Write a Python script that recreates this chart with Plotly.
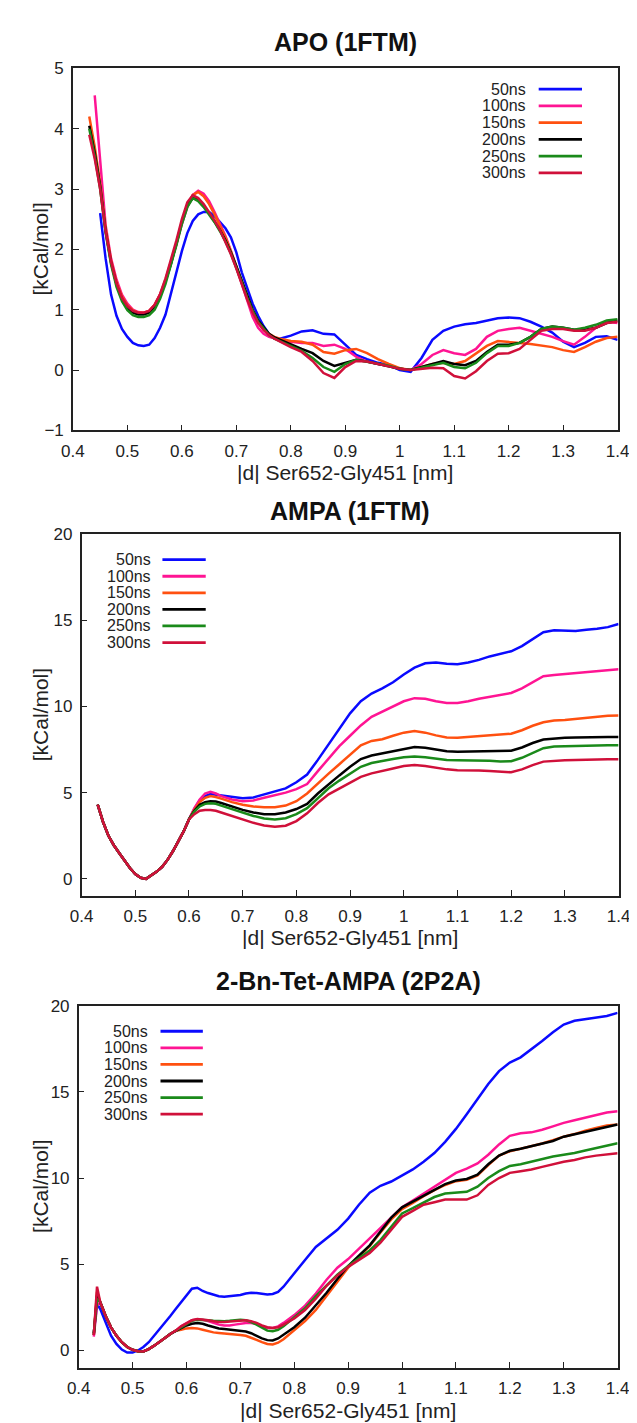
import plotly.graph_objects as go

W, H = 637, 1423
NAMES = ["50ns", "100ns", "150ns", "200ns", "250ns", "300ns"]
COLORS = ["#0a0aff", "#ff1493", "#ff5010", "#000000", "#1a8a1a", "#d0103a"]

# ---------------- Panel 1: APO (1FTM) ----------------
X1 = [0.43, 0.44, 0.45, 0.46, 0.47, 0.48, 0.49, 0.50, 0.51, 0.52, 0.53, 0.54, 0.55, 0.56, 0.57, 0.58,
      0.59, 0.60, 0.61, 0.62, 0.63, 0.64, 0.65, 0.66, 0.67, 0.68, 0.69, 0.70, 0.71, 0.72, 0.73, 0.74,
      0.75, 0.76, 0.77, 0.78,
      0.80, 0.82, 0.84, 0.86, 0.88, 0.90, 0.92, 0.94, 0.96, 0.98, 1.00, 1.02, 1.04, 1.06, 1.08, 1.10,
      1.12, 1.14, 1.16, 1.18, 1.20, 1.22, 1.24, 1.26, 1.28, 1.30, 1.32, 1.34, 1.36, 1.38, 1.40]
APO_50 = [None, None, 2.6, 1.85, 1.25, 0.9, 0.68, 0.55, 0.45, 0.41, 0.40, 0.42, 0.53, 0.7, 0.92, 1.28,
          1.64, 1.97, 2.27, 2.47, 2.58, 2.62, 2.62, 2.55, 2.45, 2.35, 2.2, 1.95, 1.62, 1.35, 1.1, 0.9,
          0.73, 0.6, 0.52, 0.52,
          0.57, 0.64, 0.66, 0.6, 0.59, 0.42, 0.25, 0.18, 0.12, 0.08, 0.0, -0.03, 0.2, 0.5, 0.65, 0.72,
          0.76, 0.78, 0.82, 0.86, 0.87, 0.86, 0.8, 0.72, 0.62, 0.47, 0.38, 0.45, 0.55, 0.56, 0.5]
APO_100 = [None, 4.55, 3.4, 2.4, 1.85, 1.5, 1.25, 1.1, 1.0, 0.96, 0.95, 0.98, 1.08, 1.25, 1.48, 1.76,
           2.08, 2.42, 2.7, 2.9, 2.97, 2.92, 2.8, 2.62, 2.43, 2.22, 1.98, 1.7, 1.4, 1.12, 0.88, 0.7,
           0.6, 0.55, 0.52, 0.5,
           0.47, 0.45, 0.45, 0.4, 0.42, 0.35, 0.22, 0.14, 0.1, 0.07, 0.02, 0.0, 0.1, 0.25, 0.33, 0.28,
           0.25, 0.35, 0.55, 0.65, 0.68, 0.7, 0.65, 0.6, 0.55, 0.48, 0.42, 0.55, 0.7, 0.8, 0.78]
APO_150 = [4.2, 3.7, 3.1, 2.35, 1.82, 1.46, 1.22, 1.07, 0.99, 0.95, 0.95, 0.98, 1.08, 1.25, 1.5, 1.78,
           2.1, 2.45, 2.72, 2.9, 2.95, 2.88, 2.75, 2.58, 2.4, 2.2, 1.97, 1.72, 1.45, 1.2, 0.97, 0.8,
           0.68, 0.6, 0.55, 0.52,
           0.48, 0.47, 0.42, 0.3, 0.27, 0.33, 0.35, 0.28, 0.18, 0.1, 0.03, 0.0, 0.05, 0.1, 0.12, 0.1,
           0.15, 0.28, 0.4, 0.48, 0.47, 0.45, 0.43, 0.4, 0.38, 0.33, 0.3, 0.38, 0.47, 0.53, 0.55]
APO_200 = [4.05, 3.6, 3.05, 2.3, 1.78, 1.42, 1.18, 1.03, 0.95, 0.92, 0.92, 0.95, 1.05, 1.22, 1.47, 1.76,
           2.1, 2.45, 2.72, 2.85, 2.82, 2.72, 2.6, 2.47, 2.32, 2.15, 1.95, 1.72, 1.47, 1.22, 1.0, 0.82,
           0.7, 0.6, 0.54, 0.5,
           0.42, 0.35, 0.28, 0.15, 0.07, 0.12, 0.17, 0.14, 0.1, 0.07, 0.02, 0.0, 0.05, 0.1, 0.15, 0.1,
           0.08, 0.15, 0.3, 0.42, 0.42, 0.45, 0.55, 0.68, 0.72, 0.7, 0.67, 0.67, 0.7, 0.78, 0.82]
APO_250 = [4.0, 3.55, 3.0, 2.28, 1.75, 1.38, 1.14, 0.99, 0.91, 0.88, 0.88, 0.91, 1.0, 1.18, 1.43, 1.73,
           2.07, 2.42, 2.7, 2.85, 2.8, 2.7, 2.58, 2.45, 2.3, 2.13, 1.93, 1.7, 1.45, 1.2, 0.98, 0.8,
           0.68, 0.58, 0.52, 0.48,
           0.4, 0.32, 0.2, 0.05, -0.03, 0.1, 0.17, 0.14, 0.1, 0.07, 0.02, 0.0, 0.04, 0.08, 0.12, 0.05,
           0.03, 0.12, 0.28, 0.4, 0.4, 0.45, 0.55, 0.68, 0.72, 0.7, 0.67, 0.7, 0.75, 0.82, 0.84]
APO_300 = [3.9, 3.5, 3.0, 2.3, 1.8, 1.44, 1.2, 1.06, 0.98, 0.95, 0.95, 0.98, 1.08, 1.26, 1.52, 1.82,
           2.15, 2.5, 2.78, 2.9, 2.85, 2.75, 2.62, 2.48, 2.32, 2.13, 1.92, 1.68, 1.42, 1.17, 0.95, 0.78,
           0.66, 0.58, 0.52, 0.47,
           0.38, 0.3, 0.15, -0.05, -0.13, 0.05, 0.15, 0.14, 0.1, 0.06, 0.02, 0.0, 0.02, 0.04, 0.03, -0.1,
           -0.14, -0.02, 0.15, 0.27, 0.28, 0.35, 0.5, 0.65, 0.68, 0.68, 0.65, 0.65, 0.7, 0.78, 0.8]

# ---------------- Panel 2: AMPA (1FTM) ----------------
X2 = [0.43, 0.44, 0.45, 0.46, 0.47, 0.48, 0.49, 0.50, 0.51, 0.52, 0.53, 0.54, 0.55, 0.56, 0.57, 0.58,
      0.59, 0.60, 0.61, 0.62, 0.63, 0.64, 0.65, 0.66,
      0.68, 0.70, 0.72, 0.74, 0.76, 0.78, 0.80, 0.82, 0.84, 0.86, 0.88, 0.90, 0.92, 0.94, 0.96, 0.98,
      1.00, 1.02, 1.04, 1.06, 1.08, 1.10, 1.12, 1.14, 1.16, 1.18, 1.20, 1.22, 1.24, 1.26, 1.28, 1.30,
      1.32, 1.34, 1.36, 1.38, 1.40]
AMPA_HEAD = [4.3, 3.3, 2.5, 1.95, 1.5, 1.05, 0.63, 0.28, 0.06, 0.0, 0.2, 0.42, 0.7, 1.1, 1.6, 2.2,
             2.75, 3.45]
AMPA_50 = [4.05, 4.55, 4.8, 4.92, 4.88, 4.8,
           4.72, 4.68, 4.72, 4.9, 5.1, 5.25, 5.6, 6.05, 6.9, 7.8, 8.7, 9.6, 10.3, 10.75, 11.05, 11.4,
           11.85, 12.25, 12.5, 12.55, 12.48, 12.45, 12.55, 12.7, 12.9, 13.05, 13.2, 13.5, 13.9, 14.3,
           14.42, 14.42, 14.38, 14.45, 14.5, 14.6, 14.78]
AMPA_100 = [4.1, 4.6, 4.95, 5.05, 4.95, 4.8,
            4.6, 4.5, 4.55, 4.7, 4.85, 5.0, 5.2, 5.5, 6.25, 7.0, 7.7, 8.3, 8.9, 9.4, 9.7, 10.0,
            10.3, 10.48, 10.45, 10.3, 10.2, 10.2, 10.3, 10.45, 10.55, 10.68, 10.78, 11.05, 11.4, 11.75,
            11.82, 11.88, 11.95, 12.0, 12.05, 12.1, 12.15]
AMPA_150 = [4.0, 4.45, 4.7, 4.8, 4.75, 4.65,
            4.45, 4.3, 4.2, 4.15, 4.15, 4.25, 4.5, 4.95, 5.55, 6.1, 6.65, 7.2, 7.75, 8.0, 8.1, 8.3,
            8.48, 8.57, 8.48, 8.32, 8.2, 8.18, 8.22, 8.28, 8.32, 8.36, 8.42, 8.62, 8.88, 9.08,
            9.18, 9.22, 9.28, 9.35, 9.42, 9.46, 9.47]
AMPA_200 = [3.95, 4.3, 4.45, 4.5, 4.48, 4.4,
            4.2, 4.0, 3.85, 3.75, 3.75, 3.85, 4.05, 4.35, 4.95, 5.5, 6.0, 6.5, 6.95, 7.15, 7.28, 7.42,
            7.55, 7.65, 7.6, 7.48, 7.4, 7.37, 7.38, 7.4, 7.4, 7.4, 7.43, 7.62, 7.88, 8.08,
            8.15, 8.18, 8.2, 8.22, 8.22, 8.22, 8.22]
AMPA_250 = [3.9, 4.2, 4.35, 4.38, 4.35, 4.25,
            4.05, 3.85, 3.65, 3.5, 3.45, 3.52, 3.75, 4.1, 4.7, 5.25, 5.7, 6.1, 6.5, 6.72, 6.85, 6.95,
            7.05, 7.1, 7.05, 6.97, 6.9, 6.88, 6.88, 6.87, 6.85, 6.8, 6.82, 7.02, 7.32, 7.58,
            7.68, 7.7, 7.72, 7.74, 7.75, 7.75, 7.75]
AMPA_300 = [3.75, 3.95, 4.0, 4.0, 3.95, 3.85,
            3.65, 3.45, 3.25, 3.1, 3.02, 3.08, 3.35, 3.8, 4.4, 4.9, 5.25, 5.6, 5.92, 6.12, 6.28, 6.4,
            6.55, 6.6, 6.55, 6.45, 6.35, 6.3, 6.3, 6.28, 6.25, 6.2, 6.18, 6.35, 6.6, 6.8,
            6.86, 6.88, 6.9, 6.92, 6.92, 6.93, 6.93]

# ---------------- Panel 3: 2-Bn-Tet-AMPA (2P2A) ----------------
X3 = [0.428, 0.434,
      0.44, 0.45, 0.46, 0.47, 0.48, 0.49, 0.50, 0.51, 0.52, 0.53, 0.54, 0.55, 0.56, 0.57, 0.58,
      0.59, 0.60, 0.61, 0.62, 0.63, 0.64, 0.65, 0.66, 0.67, 0.68, 0.69, 0.70, 0.71, 0.72, 0.73, 0.74,
      0.75, 0.76, 0.77, 0.78, 0.79, 0.80,
      0.82, 0.84, 0.86, 0.88, 0.90, 0.92, 0.94, 0.96, 0.98, 1.00, 1.02, 1.04, 1.06, 1.08, 1.10, 1.12,
      1.14, 1.16, 1.18, 1.20, 1.22, 1.24, 1.26, 1.28, 1.30, 1.32, 1.34, 1.36, 1.38, 1.40]
BN_50 = [1.0, 2.7,
         2.4, 1.6, 0.86, 0.38, 0.05, -0.12, -0.12, 0.0, 0.2, 0.48, 0.85, 1.24, 1.62, 2.0, 2.4,
         2.8, 3.25, 3.58, 3.64, 3.45, 3.33, 3.25, 3.15, 3.12, 3.14, 3.16, 3.22, 3.3, 3.35, 3.33, 3.27,
         3.25, 3.28, 3.4, 3.7, 4.1, 4.5,
         5.25, 6.0, 6.5, 7.0, 7.65, 8.45, 9.15, 9.55, 9.8, 10.15, 10.5, 10.95, 11.45, 12.1, 12.85, 13.7,
         14.6, 15.45, 16.2, 16.7, 17.0, 17.45, 17.95, 18.45, 18.9, 19.12, 19.2, 19.28, 19.4, 19.58]
BN_START = {"100ns": [0.8, 2.6], "150ns": [0.9, 3.4], "200ns": [0.9, 3.2],
            "250ns": [1.0, 3.0], "300ns": [0.9, 3.7]}
BN_HEAD = [2.8, 2.0, 1.34, 0.86, 0.48, 0.2, 0.04, -0.04, -0.06, 0.08, 0.28, 0.48, 0.72, 0.96, 1.15]
BN_100 = [1.4, 1.6, 1.75, 1.8, 1.78, 1.7, 1.6, 1.5, 1.45, 1.45, 1.5, 1.55, 1.6, 1.6, 1.55, 1.4,
          1.3, 1.3, 1.4, 1.6, 1.8, 2.05,
          2.6, 3.3, 4.1, 4.8, 5.3, 5.9, 6.5, 7.1, 7.7, 8.3, 8.7, 9.1, 9.45, 9.85, 10.3, 10.55,
          10.85, 11.35, 11.95, 12.45, 12.6, 12.65, 12.8, 13.0, 13.2, 13.35, 13.5, 13.65, 13.8, 13.88]
BN_150 = [1.2, 1.28, 1.3, 1.28, 1.2, 1.12, 1.05, 1.02, 1.0, 0.98, 0.95, 0.9, 0.85, 0.75, 0.62, 0.48,
          0.38, 0.35, 0.45, 0.65, 0.9, 1.15,
          1.7, 2.35, 3.15, 4.0, 4.8, 5.45, 6.05, 6.85, 7.6, 8.2, 8.55, 8.95, 9.3, 9.6, 9.82, 9.9,
          10.15, 10.75, 11.3, 11.55, 11.7, 11.85, 12.0, 12.2, 12.4, 12.55, 12.75, 12.9, 13.05, 13.11]
BN_200 = [1.3, 1.45, 1.55, 1.6, 1.55, 1.45, 1.35, 1.28, 1.25, 1.22, 1.2, 1.15, 1.1, 1.0, 0.85, 0.7,
          0.6, 0.58, 0.7, 0.9, 1.1, 1.35,
          1.9, 2.6, 3.35, 4.15, 4.9, 5.5, 6.1, 6.9, 7.7, 8.3, 8.65, 9.0, 9.35, 9.65, 9.86, 9.95,
          10.2, 10.8, 11.3, 11.58, 11.7, 11.85, 12.0, 12.15, 12.4, 12.55, 12.7, 12.85, 13.0, 13.11]
BN_250 = [1.35, 1.55, 1.72, 1.78, 1.78, 1.75, 1.72, 1.7, 1.7, 1.72, 1.75, 1.78, 1.75, 1.65, 1.5, 1.3,
          1.15, 1.12, 1.2, 1.4, 1.65, 1.9,
          2.45, 3.15, 3.8, 4.4, 4.9, 5.35, 5.8, 6.4, 7.2, 7.95, 8.25, 8.6, 8.9, 9.1, 9.15, 9.2,
          9.5, 10.0, 10.4, 10.7, 10.8, 10.95, 11.1, 11.25, 11.35, 11.45, 11.6, 11.75, 11.9, 12.02]
BN_300 = [1.4, 1.6, 1.75, 1.82, 1.8, 1.75, 1.7, 1.65, 1.65, 1.68, 1.72, 1.75, 1.75, 1.7, 1.6, 1.45,
          1.35, 1.3, 1.35, 1.5, 1.7, 1.85,
          2.35, 3.0, 3.75, 4.35, 4.85, 5.25, 5.65, 6.25, 7.0, 7.75, 8.1, 8.45, 8.6, 8.75, 8.75, 8.75,
          9.0, 9.6, 10.0, 10.3, 10.4, 10.5, 10.65, 10.8, 10.95, 11.05, 11.2, 11.3, 11.38, 11.44]

X_TICKS = [0.4, 0.5, 0.6, 0.7, 0.8, 0.9, 1.0, 1.1, 1.2, 1.3, 1.4]
TITLES = ["APO (1FTM)", "AMPA (1FTM)", "2-Bn-Tet-AMPA (2P2A)"]
X_TITLE = "|d| Ser652-Gly451 [nm]"
Y_TITLE = "[kCal/mol]"

panel1 = [APO_50, APO_100, APO_150, APO_200, APO_250, APO_300]
panel2 = [AMPA_HEAD + s for s in [AMPA_50, AMPA_100, AMPA_150, AMPA_200, AMPA_250, AMPA_300]]
panel3 = [BN_50] + [BN_START[n] + BN_HEAD + s for n, s in
                    zip(NAMES[1:], [BN_100, BN_150, BN_200, BN_250, BN_300])]

# pixel layout of the three panels: (left, right, top, bottom)
BOXES = [(55, 621, 52, 419), (64, 622, 524, 891), (61, 621, 1002, 1369)]
YRANGES = [[-1, 5], [-1, 20], [-1, 20]]
YTICKS = [[-1, 0, 1, 2, 3, 4, 5], [0, 5, 10, 15, 20], [0, 5, 10, 15, 20]]
# legend: (text right edge, line start, line end, first row y, row step)
LEGENDS = [(528, 539, 584, 73, 17), (138, 148, 193, 550, 16.8), (135, 146, 190, 1028, 16.8)]
TITLE_Y = [25, 501, 977]
XTITLE_Y = [462, 933, 1412]

FONT = "Liberation Sans, Arial, Helvetica, sans-serif"

def px(x):
    return x / W

def py(y):
    return 1 - y / H

fig = go.Figure()
annotations = []
shapes = []
panels = [(X1, panel1), (X2, panel2), (X3, panel3)]
for i, (xs, series) in enumerate(panels):
    k = "" if i == 0 else str(i + 1)
    for name, color, ys in zip(NAMES, COLORS, series):
        fig.add_trace(go.Scatter(x=xs, y=ys, mode="lines", name=name, showlegend=False,
                                 line=dict(color=color, width=2.5),
                                 xaxis="x" + k, yaxis="y" + k))
    l, r, t, b = BOXES[i]
    axis_common = dict(showline=True, linecolor="#222", linewidth=1.5, mirror=True,
                       showgrid=False, zeroline=False, ticks="inside", ticklen=6,
                       tickcolor="#222", ticklabelstandoff=4,
                       tickfont=dict(size=17, color="#222", family=FONT))
    fig.update_layout(**{
        "xaxis" + k: dict(domain=[px(l), px(r)], anchor="y" + k, range=[0.4, 1.4],
                          tickvals=X_TICKS, **axis_common),
        "yaxis" + k: dict(domain=[py(b), py(t)], anchor="x" + k, range=YRANGES[i],
                          tickvals=YTICKS[i], **axis_common),
    })
    cx = (l + r) / 2
    annotations.append(dict(text="<b>" + TITLES[i] + "</b>", x=px(cx), y=py(TITLE_Y[i]),
                            xref="paper", yref="paper", showarrow=False,
                            xanchor="center", yanchor="middle",
                            font=dict(size=25, color="#111", family=FONT)))
    annotations.append(dict(text=X_TITLE, x=px(cx), y=py(XTITLE_Y[i]), xref="paper", yref="paper",
                            showarrow=False, xanchor="center", yanchor="middle",
                            font=dict(size=21, color="#222", family=FONT)))
    annotations.append(dict(text=Y_TITLE, x=px(21), y=py((t + b) / 2), xref="paper", yref="paper",
                            showarrow=False, textangle=-90, xanchor="center", yanchor="middle",
                            font=dict(size=21, color="#222", family=FONT)))
    tr, l0, l1, y0, dy = LEGENDS[i]
    for j, (name, color) in enumerate(zip(NAMES, COLORS)):
        yy = y0 + j * dy
        annotations.append(dict(text=name, x=px(tr), y=py(yy), xref="paper", yref="paper",
                                showarrow=False, xanchor="right", yanchor="middle",
                                font=dict(size=16, color="#222", family=FONT)))
        shapes.append(dict(type="line", xref="paper", yref="paper", x0=px(l0), x1=px(l1),
                           y0=py(yy), y1=py(yy), line=dict(color=color, width=2.8)))

fig.update_layout(width=W, height=H, margin=dict(l=0, r=0, t=0, b=0),
                  paper_bgcolor="white", plot_bgcolor="white",
                  annotations=annotations, shapes=shapes,
                  font=dict(family=FONT, color="#222"))

fig.write_html("out.html")
